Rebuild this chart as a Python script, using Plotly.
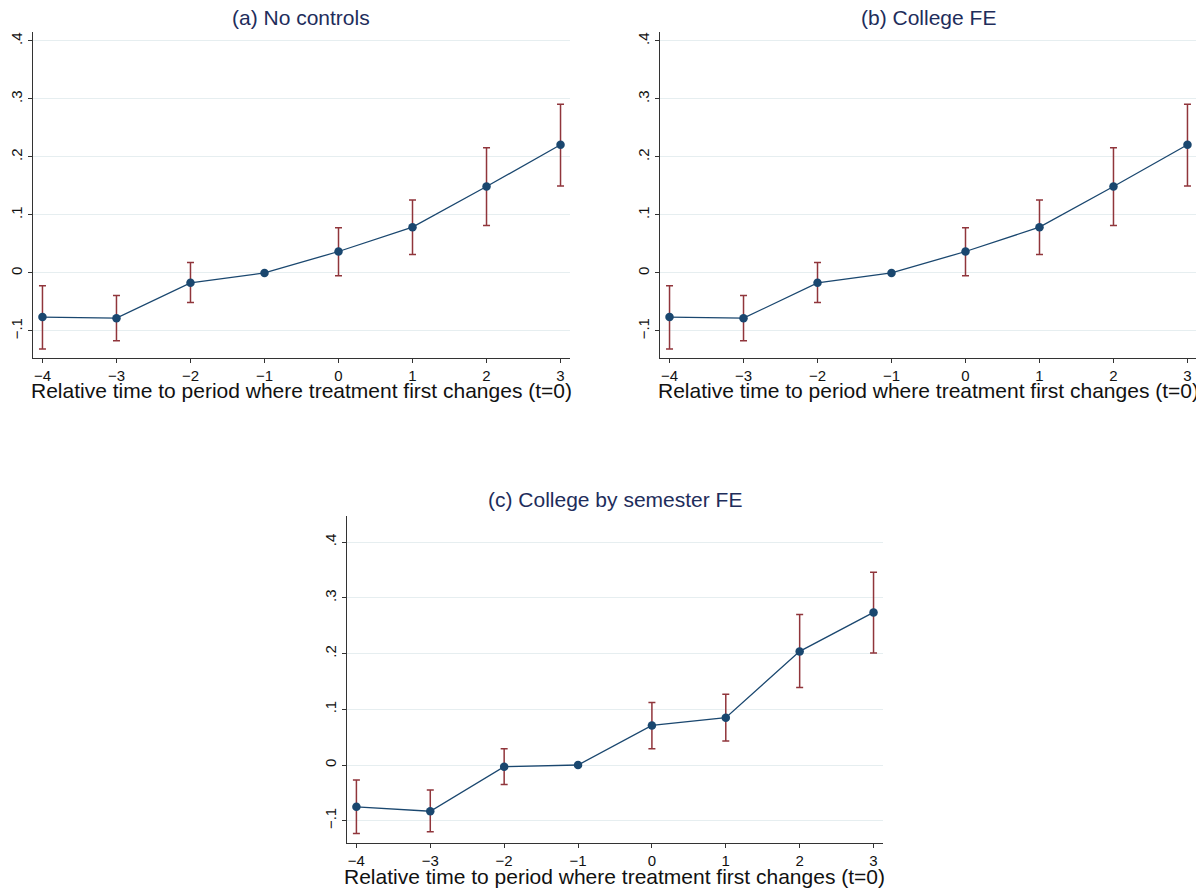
import plotly.graph_objects as go

# ---- data ----
rel_time = [-4, -3, -2, -1, 0, 1, 2, 3]

# (a) No controls
coef_a = [-0.076, -0.078, -0.017, 0.0, 0.037, 0.079, 0.149, 0.221]
lo_a = [-0.131, -0.117, -0.051, 0.0, -0.005, 0.032, 0.082, 0.150]
hi_a = [-0.022, -0.039, 0.018, 0.0, 0.078, 0.126, 0.216, 0.291]

# (b) College FE
coef_b = [-0.076, -0.078, -0.017, 0.0, 0.037, 0.079, 0.149, 0.221]
lo_b = [-0.131, -0.117, -0.051, 0.0, -0.005, 0.032, 0.082, 0.150]
hi_b = [-0.022, -0.039, 0.018, 0.0, 0.078, 0.126, 0.216, 0.291]

# (c) College by semester FE
coef_c = [-0.075, -0.083, -0.003, 0.0, 0.071, 0.085, 0.204, 0.274]
lo_c = [-0.123, -0.120, -0.035, 0.0, 0.029, 0.043, 0.139, 0.201]
hi_c = [-0.027, -0.045, 0.029, 0.0, 0.112, 0.127, 0.270, 0.346]

titles = ["(a) No controls", "(b) College FE", "(c) College by semester FE"]
xlabel = "Relative time to period where treatment first changes (t=0)"
ytick_vals = [-0.1, 0, 0.1, 0.2, 0.3, 0.4]
ytick_text = ["\u2212.1", "0", ".1", ".2", ".3", ".4"]
xtick_vals = [-4, -3, -2, -1, 0, 1, 2, 3]
xtick_text = ["\u22124", "\u22123", "\u22122", "\u22121", "0", "1", "2", "3"]

LINE = "#1a476f"
CI = "#90353b"
FONT = "Liberation Sans, Arial, Helvetica, sans-serif"

# figure is drawn inside an 8px page margin
W, H = 1196, 882

panels = [
    dict(coef=coef_a, lo=lo_a, hi=hi_a, xd=[0.0209, 0.4699], yd=[0.6032, 0.9728],
         yr=[-0.1466, 0.4155], ty=0.9895, ay=0.5658),
    dict(coef=coef_b, lo=lo_b, hi=hi_b, xd=[0.5452, 0.9941], yd=[0.6032, 0.9728],
         yr=[-0.1466, 0.4155], ty=0.9895, ay=0.5658),
    dict(coef=coef_c, lo=lo_c, hi=hi_c, xd=[0.2834, 0.7316], yd=[0.0533, 0.4240],
         yr=[-0.140, 0.447], ty=0.4422, ay=0.0150),
]

fig = go.Figure()
annotations = []
for i, p in enumerate(panels):
    n = "" if i == 0 else str(i + 1)
    xa, ya = "x" + n, "y" + n
    plus = [h - c for h, c in zip(p["hi"], p["coef"])]
    minus = [c - l for c, l in zip(p["coef"], p["lo"])]
    fig.add_trace(go.Scatter(
        x=rel_time, y=p["coef"], xaxis=xa, yaxis=ya, mode="lines+markers",
        line=dict(color=LINE, width=1.3),
        marker=dict(color=LINE, size=8.5),
        error_y=dict(type="data", symmetric=False, array=plus, arrayminus=minus,
                     color=CI, thickness=1.5, width=3.5),
        showlegend=False, hoverinfo="x+y",
    ))
    axis_common = dict(showline=True, linecolor="#333333", linewidth=1.3,
                       ticks="outside", ticklen=4, tickcolor="#333333",
                       tickfont=dict(family=FONT, size=15, color="#111111"),
                       zeroline=False)
    fig.layout["xaxis" + n] = dict(domain=p["xd"], anchor=ya, range=[-4.128, 3.128],
                                   tickvals=xtick_vals, ticktext=xtick_text,
                                   showgrid=False, **axis_common)
    fig.layout["yaxis" + n] = dict(domain=p["yd"], anchor=xa, range=p["yr"],
                                   tickvals=ytick_vals, ticktext=ytick_text,
                                   tickangle=-90, showgrid=True, gridcolor="#e6eef0",
                                   gridwidth=1, **axis_common)
    xc = (p["xd"][0] + p["xd"][1]) / 2
    annotations.append(dict(text=titles[i], x=xc, y=p["ty"], xref="paper", yref="paper",
                            xanchor="center", yanchor="middle", showarrow=False,
                            font=dict(family=FONT, size=21, color="#1e2d5b")))
    annotations.append(dict(text=xlabel, x=xc, y=p["ay"], xref="paper", yref="paper",
                            xanchor="center", yanchor="middle", showarrow=False,
                            font=dict(family=FONT, size=21, color="#111111")))

fig.update_layout(
    width=W, height=H,
    margin=dict(l=0, r=0, t=0, b=0),
    paper_bgcolor="white", plot_bgcolor="white",
    annotations=annotations,
    font=dict(family=FONT),
)

fig.write_html("out.html")
